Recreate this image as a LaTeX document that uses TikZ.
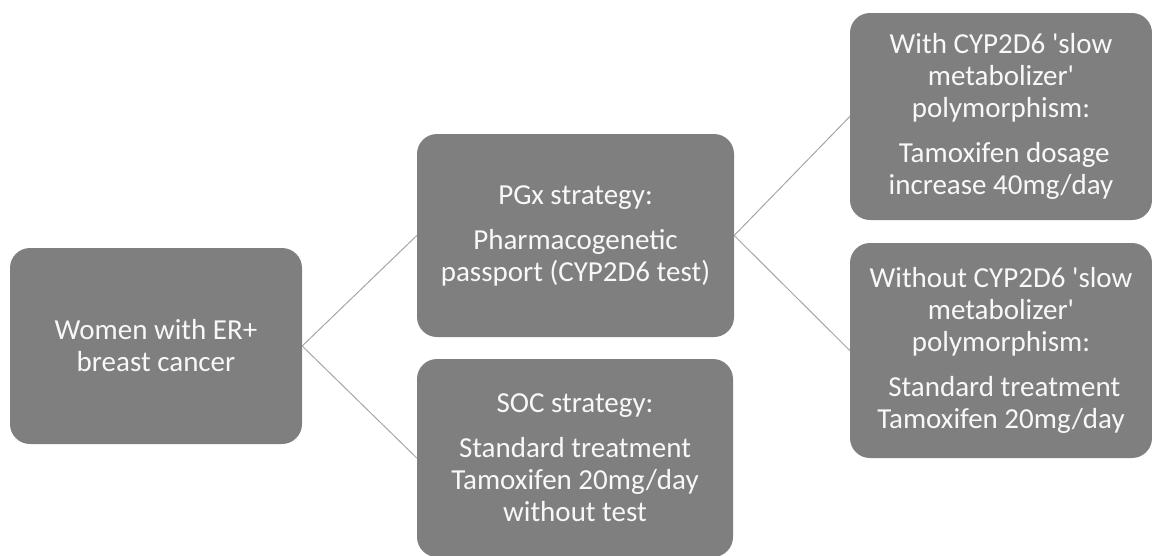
\documentclass[tikz,border=0pt]{standalone}
\usepackage{fontspec}
\setmainfont{Carlito}[Ligatures=TeXOff]
\usetikzlibrary{positioning}
\definecolor{boxgray}{HTML}{7F7F7F}
\definecolor{linegray}{HTML}{A6A6A6}
\definecolor{boxtext}{HTML}{F8F8F8}
\tikzset{
  stratbox/.style={rectangle, rounded corners=20pt,
    fill=boxgray, text=boxtext, inner sep=2pt,
    font=\fontsize{29}{32}\selectfont, align=center},
  link/.style={draw=linegray, line width=1pt},
}
\newcommand{\lead}{\mbox{}\ }
\begin{document}
\begin{tikzpicture}[x=1pt, y=-1pt]
\useasboundingbox (0,0) rectangle (1152,555);

% Population
\node (women) [stratbox, minimum width=292pt, minimum height=196pt]
  at (156,346) {Women with ER+\\breast cancer};

% Strategies
\node (pgx) [stratbox, minimum width=317pt, minimum height=203pt]
  at (575.5,235.5) {PGx strategy:\\[13pt]
   Pharmacogenetic\\passport (CYP2D6 test)};

\node (soc) [stratbox, minimum width=316pt, minimum height=198pt]
  at (575,458) {SOC strategy:\\[13pt]
   Standard treatment\\Tamoxifen 20mg/day\\without test};

% Genotype outcomes
\node (slow) [stratbox, minimum width=302pt, minimum height=207pt]
  at (1001,116.5) {With CYP2D6 'slow\\metabolizer'\\polymorphism:\\[13pt]
   \lead Tamoxifen dosage\\increase 40mg/day};

\node (noslow) [stratbox, minimum width=302pt, minimum height=215pt]
  at (1001,350.5) {Without CYP2D6 'slow\\metabolizer'\\polymorphism:\\[13pt]
   \lead Standard treatment\\Tamoxifen 20mg/day};

% Links
\draw[link] (women.east) -- (pgx.west);
\draw[link] (women.east) -- (soc.west);
\draw[link] (pgx.east)   -- (slow.west);
\draw[link] (pgx.east)   -- (noslow.west);

\end{tikzpicture}
\end{document}
